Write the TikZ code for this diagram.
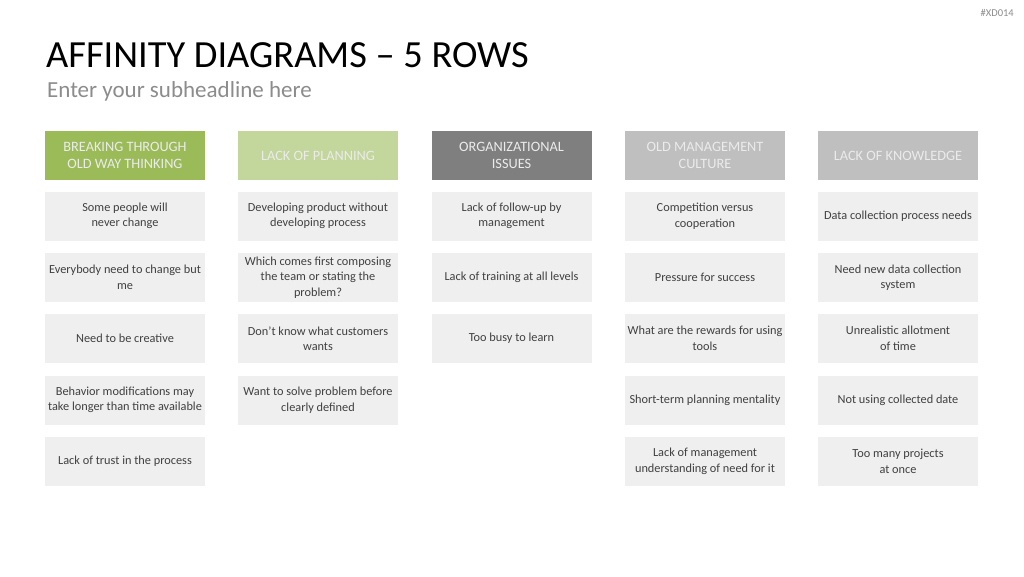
\documentclass[tikz,border=0pt]{standalone}
\usepackage{fontspec}
\setmainfont{Carlito}
\usepackage{xcolor}
\definecolor{hdrgreen}{HTML}{9BBB59}
\definecolor{hdrlight}{HTML}{C3D69B}
\definecolor{hdrdark}{HTML}{7F7F7F}
\definecolor{hdrgray}{HTML}{BFBFBF}
\definecolor{cardfill}{HTML}{EFEFEF}
\definecolor{cardtext}{HTML}{404040}
\definecolor{subgray}{HTML}{8C8C8C}
\usepackage{tikz}

\begin{document}
\begin{tikzpicture}[x=1pt, y=-1pt,
    box/.style={minimum width=160pt, minimum height=49pt, inner sep=1pt, align=center},
    header/.style={box, text=white!92!black, font=\fontsize{14.3}{16.5}\selectfont},
    card/.style={box, fill=cardfill, text=cardtext, font=\fontsize{12.3}{15.5}\selectfont}]
    % Canvas
    \useasboundingbox[fill=white] (0, 0) rectangle (1024, 576);

    % Title block
    \node[anchor=east, text=subgray, font=\fontsize{10.5}{12}\selectfont, inner sep=0pt] (tag) at (1014, 13) {\#XD014};
    \node[anchor=west, inner sep=0pt, font=\fontsize{38.4}{42}\selectfont] (title) at (46, 55) {AFFINITY DIAGRAMS – 5 ROWS};
    \node[anchor=west, inner sep=0pt, text=subgray, font=\fontsize{23}{27}\selectfont] (subtitle) at (47, 91.5) {Enter your subheadline here};

    % Headers
    \node[header, fill=hdrgreen] (h1) at (125, 155.5) {BREAKING THROUGH\\OLD WAY THINKING};
    \node[header, fill=hdrlight] (h2) at (318, 155.5) {LACK OF PLANNING};
    \node[header, fill=hdrdark] (h3) at (511.5, 155.5) {ORGANIZATIONAL\\ISSUES};
    \node[header, fill=hdrgray] (h4) at (705, 155.5) {OLD MANAGEMENT\\CULTURE};
    \node[header, fill=hdrgray] (h5) at (898, 155.5) {LACK OF KNOWLEDGE};

    % Column 1
    \node[card] (c11) at (125, 216) {Some people will\\never change};
    \node[card] (c12) at (125, 277.5) {Everybody need to change but\\me};
    \node[card] (c13) at (125, 338.5) {Need to be creative};
    \node[card] (c14) at (125, 400) {Behavior modifications may\\take longer than time available};
    \node[card] (c15) at (125, 461.5) {Lack of trust in the process};

    % Column 2
    \node[card] (c21) at (318, 216) {Developing product without\\developing process};
    \node[card] (c22) at (318, 277.5) {Which comes first composing\\the team or stating the\\problem?};
    \node[card] (c23) at (318, 338.5) {Don’t know what customers\\wants};
    \node[card] (c24) at (318, 400) {Want to solve problem before\\clearly defined};

    % Column 3
    \node[card] (c31) at (511.5, 216) {Lack of follow-up by\\management};
    \node[card] (c32) at (511.5, 277.5) {Lack of training at all levels};
    \node[card] (c33) at (511.5, 338.5) {Too busy to learn};

    % Column 4
    \node[card] (c41) at (705, 216) {Competition versus\\cooperation};
    \node[card] (c42) at (705, 277.5) {Pressure for success};
    \node[card] (c43) at (705, 338.5) {What are the rewards for using\\tools};
    \node[card] (c44) at (705, 400) {Short-term planning mentality};
    \node[card] (c45) at (705, 461.5) {Lack of management\\understanding of need for it};

    % Column 5
    \node[card] (c51) at (898, 216) {Data collection process needs};
    \node[card] (c52) at (898, 277.5) {Need new data collection\\system};
    \node[card] (c53) at (898, 338.5) {Unrealistic allotment\\of time};
    \node[card] (c54) at (898, 400) {Not using collected date};
    \node[card] (c55) at (898, 461.5) {Too many projects\\at once};
\end{tikzpicture}
\end{document}
